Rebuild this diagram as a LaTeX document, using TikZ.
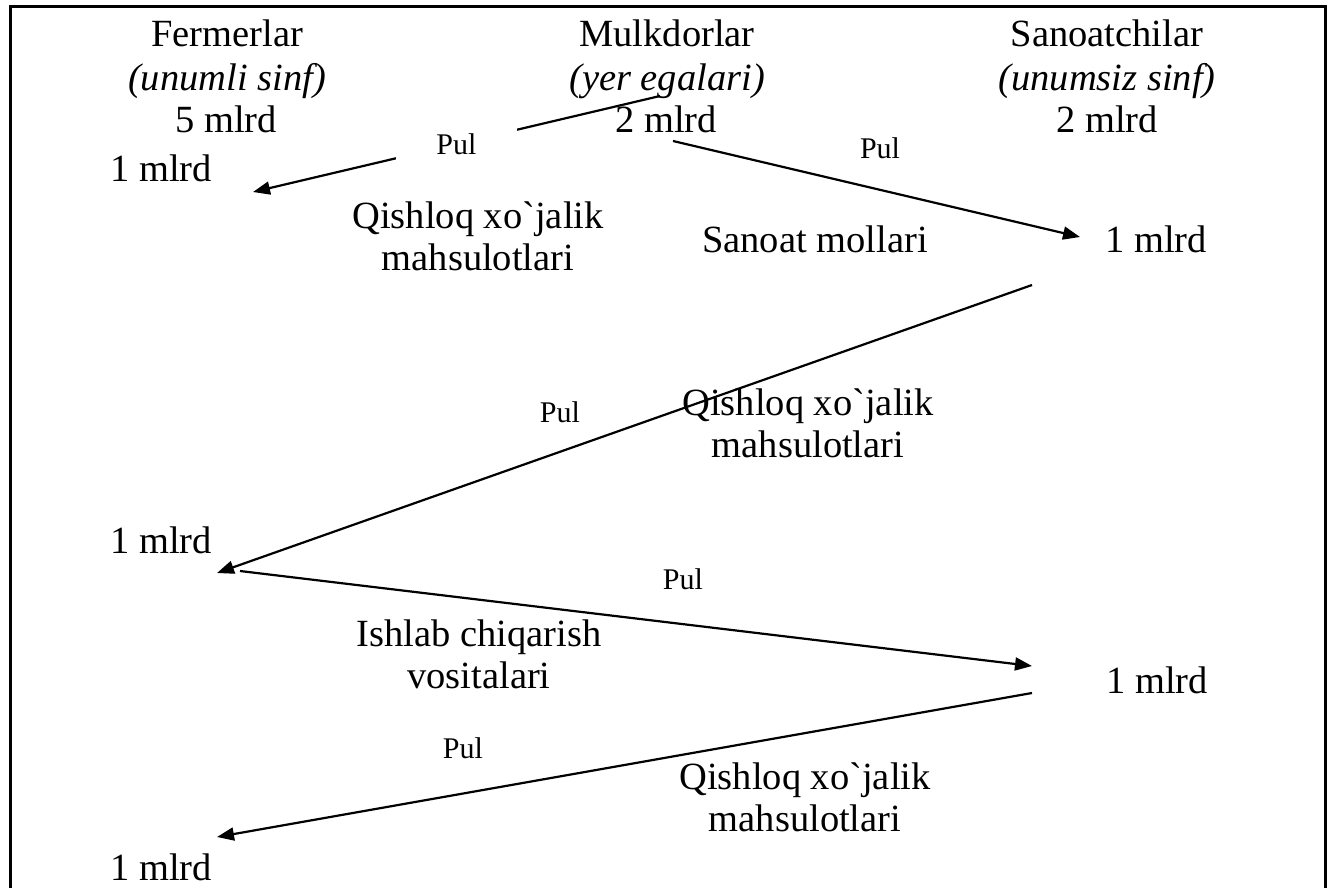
\documentclass[tikz,border=0pt]{standalone}
\usepackage{fontspec}
\setmainfont{Liberation Serif}
\usetikzlibrary{arrows.meta, positioning}
\tikzset{>={Triangle[length=17pt,width=13pt]}}
\tikzset{txt/.style={font=\fontsize{38.5}{42}\selectfont, inner sep=0pt, align=center},
	pul/.style={font=\fontsize{30}{34}\selectfont, inner sep=0pt}}

\begin{document}
\begin{tikzpicture}[x=1pt, y=-1pt, line width=2.2pt]
	\useasboundingbox (0,0) rectangle (1333,888);
	\draw[line width=3pt] (10,7) rectangle (1325,900);
	% sinflar
	\node[txt, anchor=base] (fer) at (227,47) {Fermerlar};
	\node[txt, anchor=base] (ferc) at (227,91) {\textit{(unumli sinf)}};
	\node[txt, anchor=base] (fer5) at (226,133) {5 mlrd};
	\node[txt, anchor=base] (mul) at (667,47) {Mulkdorlar};
	\node[txt, anchor=base] (mulc) at (667,91) {\textit{(yer egalari)}};
	\node[txt, anchor=base] (mul2) at (666,133) {2 mlrd};
	\node[txt, anchor=base] (san) at (1107,47) {Sanoatchilar};
	\node[txt, anchor=base] (sanc) at (1107,91) {\textit{(unumsiz sinf)}};
	\node[txt, anchor=base] (san2) at (1107,133) {2 mlrd};
	% 1 mlrd
	\node[txt, anchor=base] (a1) at (161,182) {1 mlrd};
	\node[txt, anchor=base] (b1) at (1156,252) {1 mlrd};
	\node[txt, anchor=base] (a2) at (161,553) {1 mlrd};
	\node[txt, anchor=base] (b2) at (1157,693) {1 mlrd};
	\node[txt, anchor=base] (a3) at (161,880) {1 mlrd};
	% tovarlar
	\node[txt] (qx1) at (478,236) {Qishloq xo\textasciigrave jalik\\mahsulotlari};
	\node[txt, anchor=base] (sm) at (815,252) {Sanoat mollari};
	\node[txt] (qx2) at (808,423) {Qishloq xo\textasciigrave jalik\\mahsulotlari};
	\node[txt] (ich) at (479,654) {Ishlab chiqarish\\vositalari};
	\node[txt] (qx3) at (805,797) {Qishloq xo\textasciigrave jalik\\mahsulotlari};
	% oqimlar
	\coordinate (m1) at (660,96); \coordinate (f1) at (253,192);
	\coordinate (m2) at (673,141); \coordinate (s1) at (1080,237);
	\coordinate (s2) at (1032,285); \coordinate (f2) at (217,573);
	\coordinate (f3) at (240,571); \coordinate (s3) at (1032,666);
	\coordinate (s4) at (1032,693); \coordinate (f4) at (217,837);
	\draw[->] (m1) -- node[pul, fill=white, minimum width=121pt, minimum height=36pt] (p1) {Pul} (f1);
	\draw[->] (m2) -- (s1);
	\draw[->] (s2) -- (f2);
	\draw[->] (f3) -- (s3);
	\draw[->] (s4) -- (f4);
	\node[pul] (p2) at (880,148) {Pul};
	\node[pul] (p3) at (560,412) {Pul};
	\node[pul] (p4) at (683,579) {Pul};
	\node[pul] (p5) at (463,748) {Pul};
\end{tikzpicture}
\end{document}
